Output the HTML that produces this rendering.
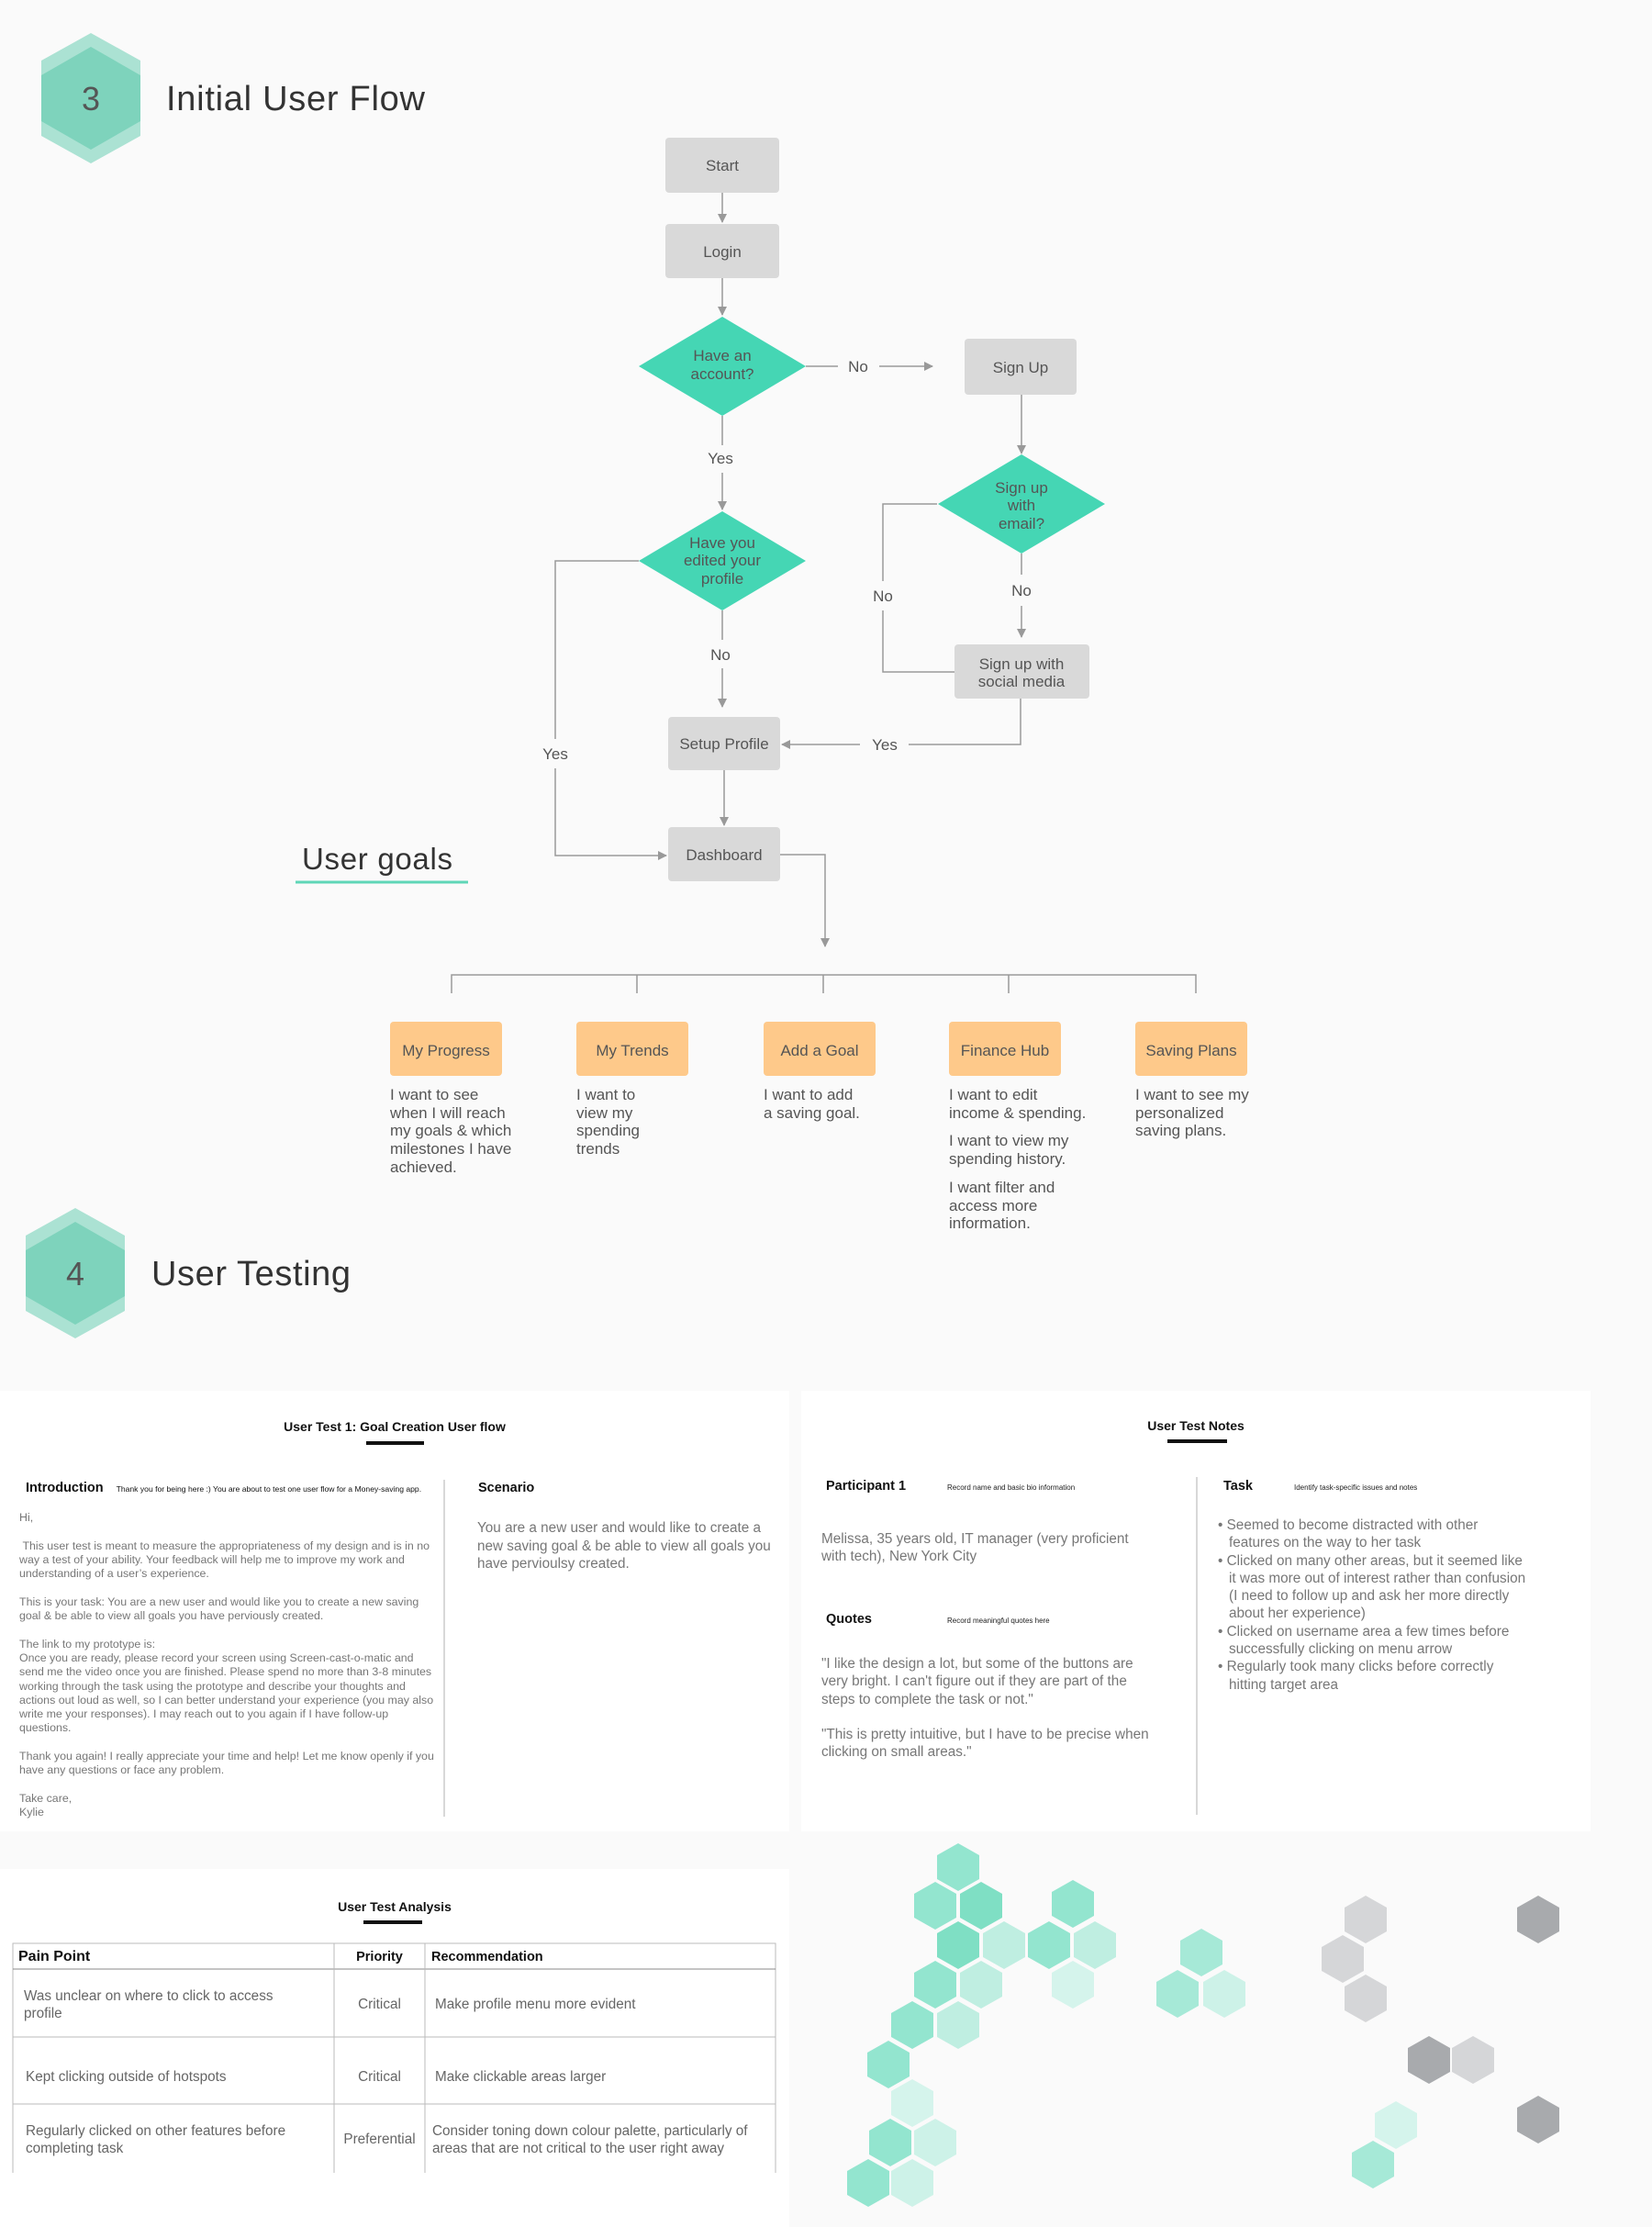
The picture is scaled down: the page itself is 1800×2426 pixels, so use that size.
<!DOCTYPE html>
<html><head><meta charset="utf-8"><style>
*{margin:0;padding:0;box-sizing:border-box}
body{width:1800px;height:2426px;background:#fafafa;position:relative;overflow:hidden;font-family:"Liberation Sans",sans-serif}
.a{position:absolute}
svg{position:absolute;left:0;top:0}
.p{position:absolute;color:#777;font-size:12.4px;line-height:15.3px}
.g{color:#555;font-size:17px;line-height:19.7px;position:absolute}
.nt{color:#666;font-size:15.3px;line-height:19.3px;position:absolute}
</style></head><body>
<div class="a" style="left:0;top:1515px;width:860px;height:480px;background:#fff"></div>
<div class="a" style="left:873px;top:1515px;width:860px;height:480px;background:#fff"></div>
<div class="a" style="left:0;top:2036px;width:860px;height:390px;background:#fff"></div>
<svg width="1800" height="2426" viewBox="0 0 1800 2426">
<defs><marker id="ar" markerWidth="10" markerHeight="10" refX="9" refY="5" orient="auto" markerUnits="userSpaceOnUse"><path d="M0,0 L10,5 L0,10 z" fill="#999"/></marker></defs>
<g>
<polygon points="99,36 153,66 153,148 99,178 45,148 45,66" fill="#abe2d3"/>
<polygon points="99,51 153,82 153,132 99,163 45,132 45,82" fill="#7ed3bc"/>
<text x="99" y="120" font-size="36" fill="#555" text-anchor="middle">3</text>
<text x="181" y="120" font-size="38" fill="#333" textLength="282">Initial User Flow</text>
</g>
<g transform="translate(-17,1280)">
<polygon points="99,36 153,66 153,148 99,178 45,148 45,66" fill="#abe2d3"/>
<polygon points="99,51 153,82 153,132 99,163 45,132 45,82" fill="#7ed3bc"/>
<text x="99" y="120" font-size="36" fill="#555" text-anchor="middle">4</text>
</g>
<text x="165" y="1400" font-size="38" fill="#333" textLength="217">User Testing</text>
<text x="329" y="947" font-size="33" fill="#333" textLength="164">User goals</text>
<line x1="322" y1="961" x2="510" y2="961" stroke="#5fd6b7" stroke-width="3"/>
<g stroke="#999" stroke-width="1.5" fill="none">
<line x1="787" y1="210" x2="787" y2="242" marker-end="url(#ar)"/>
<line x1="787" y1="303" x2="787" y2="343" marker-end="url(#ar)"/>
<line x1="878" y1="399" x2="913" y2="399"/>
<line x1="958" y1="399" x2="1016" y2="399" marker-end="url(#ar)"/>
<line x1="787" y1="453" x2="787" y2="485"/>
<line x1="787" y1="515" x2="787" y2="555" marker-end="url(#ar)"/>
<line x1="1113" y1="430" x2="1113" y2="494" marker-end="url(#ar)"/>
<line x1="1113" y1="603" x2="1113" y2="626"/>
<line x1="1113" y1="660" x2="1113" y2="694" marker-end="url(#ar)"/>
<polyline points="1021,549 962,549 962,633"/>
<polyline points="962,665 962,732 1040,732"/>
<line x1="787" y1="665" x2="787" y2="697"/>
<line x1="787" y1="728" x2="787" y2="770" marker-end="url(#ar)"/>
<polyline points="1112,761 1112,811 990,811"/>
<line x1="937" y1="811" x2="852" y2="811" marker-end="url(#ar)"/>
<polyline points="696,611 605,611 605,805"/>
<polyline points="605,837 605,932 726,932" marker-end="url(#ar)"/>
<line x1="789" y1="839" x2="789" y2="899" marker-end="url(#ar)"/>
<polyline points="850,931 899,931 899,1031" marker-end="url(#ar)"/>
<polyline points="492,1082 492,1062 1303,1062 1303,1082"/>
<line x1="694" y1="1062" x2="694" y2="1082"/><line x1="897" y1="1062" x2="897" y2="1082"/><line x1="1099" y1="1062" x2="1099" y2="1082"/>
</g>
<g fill="#d9d9d9">
<rect x="725" y="150" width="124" height="60" rx="4"/>
<rect x="725" y="244" width="124" height="59" rx="4"/>
<rect x="1051" y="369" width="122" height="61" rx="4"/>
<rect x="1040" y="702" width="147" height="59" rx="4"/>
<rect x="728" y="781" width="122" height="58" rx="4"/>
<rect x="728" y="901" width="122" height="59" rx="4"/>
</g>
<g fill="#45d6b4">
<polygon points="787,345 878,399 787,453 696,399"/>
<polygon points="1113,495 1204,549 1113,603 1022,549"/>
<polygon points="787,557 878,611 787,665 696,611"/>
</g>
<g fill="#fec98a">
<rect x="425" y="1113" width="122" height="59" rx="4"/>
<rect x="628" y="1113" width="122" height="59" rx="4"/>
<rect x="832" y="1113" width="122" height="59" rx="4"/>
<rect x="1034" y="1113" width="122" height="59" rx="4"/>
<rect x="1237" y="1113" width="122" height="59" rx="4"/>
</g>
<g font-size="17" fill="#555" text-anchor="middle">
<text x="787" y="186">Start</text>
<text x="787" y="280">Login</text>
<text x="787" y="393">Have an</text><text x="787" y="413">account?</text>
<text x="935" y="405">No</text>
<text x="1112" y="406">Sign Up</text>
<text x="785" y="505">Yes</text>
<text x="1113" y="537">Sign up</text><text x="1113" y="556">with</text><text x="1113" y="576">email?</text>
<text x="787" y="597">Have you</text><text x="787" y="616">edited your</text><text x="787" y="636">profile</text>
<text x="1113" y="649">No</text>
<text x="962" y="655">No</text>
<text x="785" y="719">No</text>
<text x="1113" y="729">Sign up with</text><text x="1113" y="748">social media</text>
<text x="789" y="816">Setup Profile</text>
<text x="964" y="817">Yes</text>
<text x="605" y="827">Yes</text>
<text x="789" y="937">Dashboard</text>
<text x="486" y="1150">My Progress</text>
<text x="689" y="1150">My Trends</text>
<text x="893" y="1150">Add a Goal</text>
<text x="1095" y="1150">Finance Hub</text>
<text x="1298" y="1150">Saving Plans</text>
</g>
<line x1="484" y1="1612" x2="484" y2="1979" stroke="#ccc" stroke-width="1.5"/>
<line x1="1304" y1="1609" x2="1304" y2="1977" stroke="#ccc" stroke-width="1.5"/>
<rect x="399" y="1570" width="63" height="4" fill="#111"/>
<rect x="1272" y="1568" width="65" height="4" fill="#111"/>
<rect x="396" y="2092" width="64" height="4" fill="#111"/>
<g stroke="#bbb" stroke-width="1" fill="none">
<rect x="14" y="2117" width="831" height="260"/>
<line x1="14" y1="2145" x2="845" y2="2145" stroke="#888"/>
<line x1="14" y1="2219" x2="845" y2="2219"/>
<line x1="14" y1="2292" x2="845" y2="2292"/>
<line x1="364" y1="2117" x2="364" y2="2377"/>
<line x1="463" y1="2117" x2="463" y2="2377"/>
</g>
<rect x="0" y="2367" width="860" height="59" fill="#fff"/>
<g id="hx">
<defs><polygon id="h" points="0,-26 23,-13 23,13 0,26 -23,13 -23,-13"/></defs>
<use href="#h" x="1044" y="2034" fill="#93e5cf"/>
<use href="#h" x="1019" y="2076" fill="#93e5cf"/>
<use href="#h" x="1069" y="2076" fill="#7fdfc4"/>
<use href="#h" x="1169" y="2074" fill="#93e5cf"/>
<use href="#h" x="1044" y="2119" fill="#7fdfc4"/>
<use href="#h" x="1094" y="2119" fill="#bfeee1"/>
<use href="#h" x="1143" y="2119" fill="#93e5cf"/>
<use href="#h" x="1193" y="2119" fill="#bfeee1"/>
<use href="#h" x="1019" y="2162" fill="#93e5cf"/>
<use href="#h" x="1069" y="2162" fill="#bfeee1"/>
<use href="#h" x="1169" y="2162" fill="#d5f4ec"/>
<use href="#h" x="1309" y="2127" fill="#a6e9d7"/>
<use href="#h" x="1283" y="2172" fill="#a6e9d7"/>
<use href="#h" x="1334" y="2172" fill="#cdf2e8"/>
<use href="#h" x="994" y="2206" fill="#93e5cf"/>
<use href="#h" x="1044" y="2206" fill="#bfeee1"/>
<use href="#h" x="968" y="2249" fill="#93e5cf"/>
<use href="#h" x="994" y="2291" fill="#d5f4ec"/>
<use href="#h" x="970" y="2334" fill="#93e5cf"/>
<use href="#h" x="1019" y="2334" fill="#cdf2e8"/>
<use href="#h" x="946" y="2378" fill="#93e5cf"/>
<use href="#h" x="994" y="2378" fill="#cdf2e8"/>
<use href="#h" x="1488" y="2091" fill="#d5d6d8"/>
<use href="#h" x="1463" y="2134" fill="#d5d6d8"/>
<use href="#h" x="1488" y="2177" fill="#d5d6d8"/>
<use href="#h" x="1676" y="2091" fill="#a8aaad"/>
<use href="#h" x="1557" y="2244" fill="#a8aaad"/>
<use href="#h" x="1605" y="2244" fill="#d5d6d8"/>
<use href="#h" x="1676" y="2309" fill="#a8aaad"/>
<use href="#h" x="1521" y="2315" fill="#d5f4ec"/>
<use href="#h" x="1496" y="2358" fill="#a6e9d7"/>
</g>
</svg>

<div class="g" style="left:425px;top:1183px">I want to see<br>when I will reach<br>my goals &amp; which<br>milestones I have<br>achieved.</div>
<div class="g" style="left:628px;top:1183px">I want to<br>view my<br>spending<br>trends</div>
<div class="g" style="left:832px;top:1183px">I want to add<br>a saving goal.</div>
<div class="g" style="left:1034px;top:1183px">I want to edit<br>income &amp; spending.<div style="height:11px"></div>I want to view my<br>spending history.<div style="height:11px"></div>I want filter and<br>access more<br>information.</div>
<div class="g" style="left:1237px;top:1183px">I want to see my<br>personalized<br>saving plans.</div>

<div class="a" style="left:0;width:860px;top:1546px;text-align:center;font-weight:bold;font-size:14px;color:#111">User Test 1: Goal Creation User flow</div>
<div class="a" style="left:28px;top:1613px;font-weight:bold;font-size:14.5px;color:#111">Introduction <span style="font-weight:normal;font-size:8.6px;margin-left:10px">Thank you for being here :) You are about to test one user flow for a Money-saving app.</span></div>
<div class="p" style="left:21px;top:1646px;width:458px">Hi,<br><br>&nbsp;This user test is meant to measure the appropriateness of my design and is in no way a test of your ability. Your feedback will help me to improve my work and understanding of a user’s experience.<br><br>This is your task: You are a new user and would like you to create a new saving goal &amp; be able to view all goals you have perviously created.<br><br>The link to my prototype is:<br>Once you are ready, please record your screen using Screen-cast-o-matic and<br>send me the video once you are finished. Please spend no more than 3-8 minutes working through the task using the prototype and describe your thoughts and actions out loud as well, so I can better understand your experience (you may also write me your responses). I may reach out to you again if I have follow-up questions.<br><br>Thank you again! I really appreciate your time and help! Let me know openly if you have any questions or face any problem.<br><br>Take care,<br>Kylie</div>
<div class="a" style="left:521px;top:1613px;font-weight:bold;font-size:14.5px;color:#111">Scenario</div>
<div class="nt" style="left:520px;top:1655px;width:320px;color:#777;line-height:19.5px">You are a new user and would like to create a new saving goal &amp; be able to view all goals you have pervioulsy created.</div>

<div class="a" style="left:873px;width:860px;top:1545px;text-align:center;font-weight:bold;font-size:14px;color:#111">User Test Notes</div>
<div class="a" style="left:900px;top:1611px;font-weight:bold;font-size:14.5px;color:#111">Participant 1</div>
<div class="a" style="left:1032px;top:1616px;font-size:8px;color:#222">Record name and basic bio information</div>
<div class="nt" style="left:895px;top:1667px;width:400px;color:#777">Melissa, 35 years old, IT manager (very proficient<br>with tech), New York City</div>
<div class="a" style="left:900px;top:1756px;font-weight:bold;font-size:14.5px;color:#111">Quotes</div>
<div class="a" style="left:1032px;top:1761px;font-size:8px;color:#222">Record meaningful quotes here</div>
<div class="nt" style="left:895px;top:1803px;width:400px;color:#777">"I like the design a lot, but some of the buttons are<br>very bright. I can't figure out if they are part of the<br>steps to complete the task or not."<div style="height:19px"></div>"This is pretty intuitive, but I have to be precise when<br>clicking on small areas."</div>
<div class="a" style="left:1333px;top:1611px;font-weight:bold;font-size:14.5px;color:#111">Task</div>
<div class="a" style="left:1410px;top:1616px;font-size:8px;color:#222">Identify task-specific issues and notes</div>
<div class="nt" style="left:1327px;top:1652px;width:370px;color:#777">
<div style="padding-left:12px;text-indent:-12px">• Seemed to become distracted with other<br>features on the way to her task</div>
<div style="padding-left:12px;text-indent:-12px">• Clicked on many other areas, but it seemed like<br>it was more out of interest rather than confusion<br>(I need to follow up and ask her more directly<br>about her experience)</div>
<div style="padding-left:12px;text-indent:-12px">• Clicked on username area a few times before<br>successfully clicking on menu arrow</div>
<div style="padding-left:12px;text-indent:-12px">• Regularly took many clicks before correctly<br>hitting target area</div></div>

<div class="a" style="left:0;width:860px;top:2069px;text-align:center;font-weight:bold;font-size:14px;color:#111">User Test Analysis</div>
<div class="a" style="left:20px;top:2123px;font-weight:bold;font-size:16px;color:#111">Pain Point</div>
<div class="a" style="left:364px;width:99px;text-align:center;top:2124px;font-weight:bold;font-size:14.5px;color:#111">Priority</div>
<div class="a" style="left:470px;top:2124px;font-weight:bold;font-size:14.5px;color:#111">Recommendation</div>
<div class="nt" style="left:26px;top:2165px;width:330px">Was unclear on where to click to access<br>profile</div>
<div class="nt" style="left:364px;width:99px;text-align:center;top:2174px">Critical</div>
<div class="nt" style="left:474px;top:2174px">Make profile menu more evident</div>
<div class="nt" style="left:28px;top:2253px">Kept clicking outside of hotspots</div>
<div class="nt" style="left:364px;width:99px;text-align:center;top:2253px">Critical</div>
<div class="nt" style="left:474px;top:2253px">Make clickable areas larger</div>
<div class="nt" style="left:28px;top:2312px;width:330px">Regularly clicked on other features before<br>completing task</div>
<div class="nt" style="left:364px;width:99px;text-align:center;top:2321px">Preferential</div>
<div class="nt" style="left:471px;top:2312px;width:378px">Consider toning down colour palette, particularly of<br>areas that are not critical to the user right away</div>
</body></html>
